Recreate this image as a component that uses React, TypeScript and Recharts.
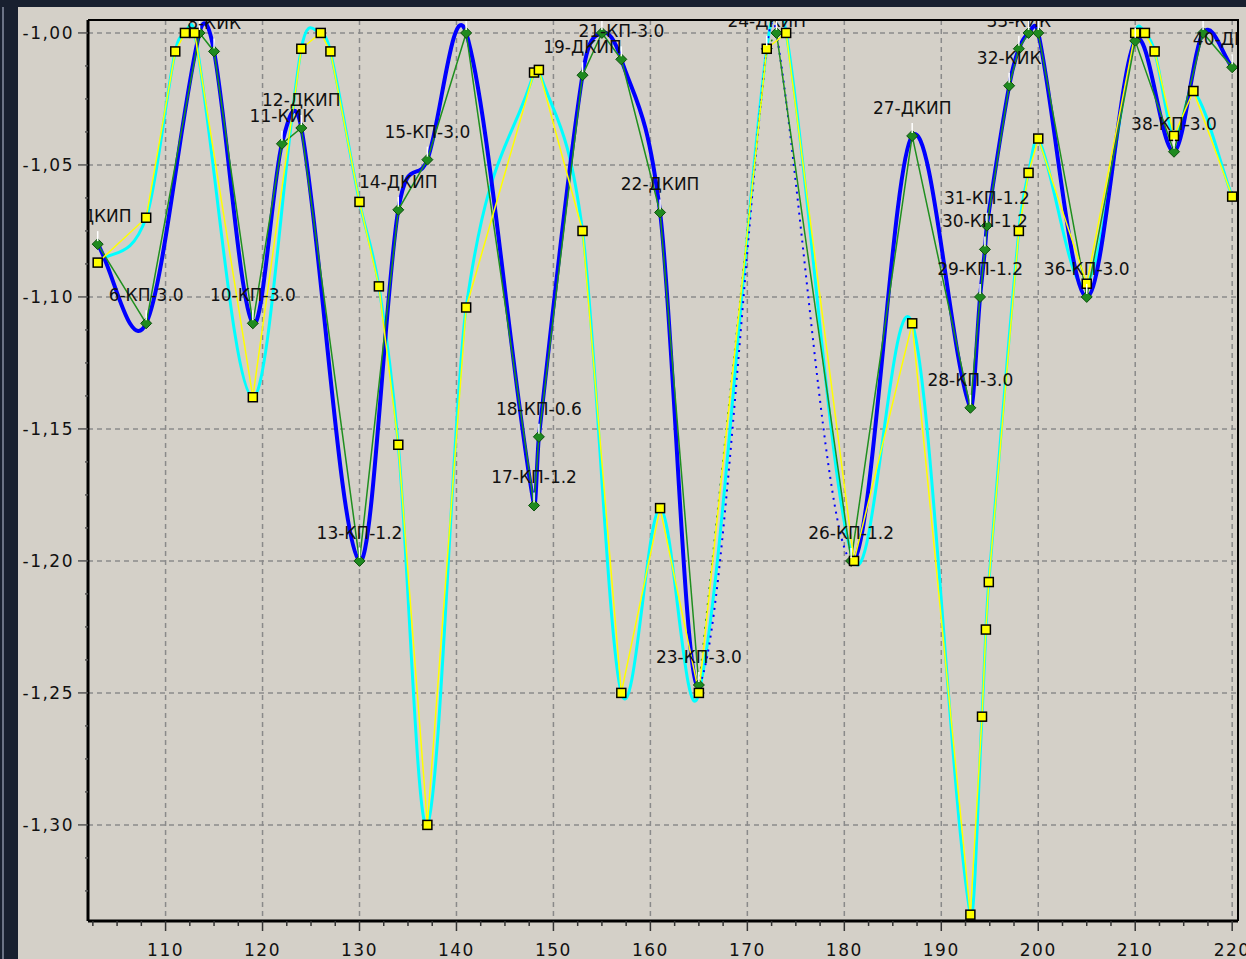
import { LineChart, Line, XAxis, YAxis, CartesianGrid, LabelList } from 'recharts';

// green series: measured points (stations), with labels
const greenX = [103, 108, 113.5, 115, 119, 122, 124, 130, 134, 137, 141, 148, 148.5, 153, 155, 157, 161, 165, 172, 173, 180.7, 187, 193, 194, 194.5, 194.7, 197, 198, 199, 200, 205, 210, 214, 217, 220];
const greenY = [-1.080, -1.110, -1.000, -1.007, -1.110, -1.042, -1.036, -1.200, -1.067, -1.048, -1.000, -1.179, -1.153, -1.016, -1.000, -1.010, -1.068, -1.247, -1.006, -1.000, -1.200, -1.039, -1.142, -1.100, -1.082, -1.073, -1.020, -1.006, -1.000, -1.000, -1.100, -1.003, -1.045, -1.000, -1.013];
const greenNames = ['5-ДКИП', '6-КП-3.0', '', '8-КИК', '10-КП-3.0', '11-КИК', '12-ДКИП', '13-КП-1.2', '14-ДКИП', '15-КП-3.0', '', '17-КП-1.2', '18-КП-0.6', '19-ДКИП', '', '21-КП-3.0', '22-ДКИП', '23-КП-3.0', '24-ДКИП', '', '26-КП-1.2', '27-ДКИП', '28-КП-3.0', '29-КП-1.2', '30-КП-1.2', '31-КП-1.2', '32-КИК', '33-КИК', '', '', '36-КП-3.0', '', '38-КП-3.0', '', '40-ДКИП'];

// yellow series
const yellowX = [103, 108, 111, 112, 113, 119, 124, 126, 127, 130, 132, 134, 137, 141, 148, 148.5, 153, 157, 161, 165, 172, 174, 181, 187, 193, 194.2, 194.6, 194.9, 198, 199, 200, 205, 210, 211, 212, 214, 216, 220];
const yellowY = [-1.087, -1.070, -1.007, -1.000, -1.000, -1.138, -1.006, -1.000, -1.007, -1.064, -1.096, -1.156, -1.300, -1.104, -1.015, -1.014, -1.075, -1.250, -1.180, -1.250, -1.006, -1.000, -1.200, -1.110, -1.334, -1.259, -1.226, -1.208, -1.075, -1.053, -1.040, -1.095, -1.000, -1.000, -1.007, -1.039, -1.022, -1.062];

const xMajorTicks = [110, 120, 130, 140, 150, 160, 170, 180, 190, 200, 210, 220];
const xMinorTicks = [102.5, 105, 107.5, 112.5, 115, 117.5, 122.5, 125, 127.5, 132.5, 135, 137.5, 142.5, 145, 147.5, 152.5, 155, 157.5, 162.5, 165, 167.5, 172.5, 175, 177.5, 182.5, 185, 187.5, 192.5, 195, 197.5, 202.5, 205, 207.5, 212.5, 215, 217.5];
const yMajorTicks = [-1.0, -1.05, -1.1, -1.15, -1.2, -1.25, -1.3];
const yMinorTicks = [-1.0125, -1.025, -1.0375, -1.0625, -1.075, -1.0875, -1.1125, -1.125, -1.1375, -1.1625, -1.175, -1.1875, -1.2125, -1.225, -1.2375, -1.2625, -1.275, -1.2875, -1.3125, -1.325];

const xDomain = [102, 220.6];
const yDomain = [-1.3364, -0.9951];

const greenData = greenX.map((x, i) => ({ x, y: greenY[i], n: greenNames[i] }));
const yellowData = yellowX.map((x, i) => ({ x, y: yellowY[i] }));

// dotted stretch of the smoothed/raw green run
const dottedBlue = [165, 180.7];
const dottedGreen = [165, 173];

const CHART_W = 1228;
const CHART_H = 952;
const PLOT = { left: 70, top: 13, width: 1150, height: 901 };
const FONT = '"DejaVu Sans", Arial, sans-serif';

const xPx = (v: number) => PLOT.left + ((v - xDomain[0]) / (xDomain[1] - xDomain[0])) * PLOT.width;
const yPx = (v: number) => PLOT.top + ((yDomain[1] - v) / (yDomain[1] - yDomain[0])) * PLOT.height;

const near = (arr: number[], v: number) => arr.some((t) => Math.abs(t - v) < 1e-6);

const scaleOf = (axis: any, v: number, fallback: (v: number) => number) => {
  const s = axis?.scale;
  if (typeof s === 'function') return s(v);
  if (s && typeof s.map === 'function') return s.map(v);
  return fallback(v);
};

// Catmull-Rom style smoothing in y(x): tangent from the two neighbours
function smoothX(context: any) {
  let px: number[] = [];
  let py: number[] = [];
  return {
    areaStart() {},
    areaEnd() {},
    lineStart() { px = []; py = []; },
    point(x: number, y: number) { px.push(+x); py.push(+y); },
    lineEnd() {
      const n = px.length;
      if (!n) return;
      context.moveTo(px[0], py[0]);
      if (n < 3) {
        for (let i = 1; i < n; i++) context.lineTo(px[i], py[i]);
        return;
      }
      const m: number[] = [];
      for (let i = 0; i < n; i++) {
        const a = Math.max(0, i - 1);
        const b = Math.min(n - 1, i + 1);
        m[i] = (py[b] - py[a]) / (px[b] - px[a] || 1e-6);
      }
      for (let i = 0; i < n - 1; i++) {
        const h = px[i + 1] - px[i];
        context.bezierCurveTo(px[i] + h / 3, py[i] + (m[i] * h) / 3, px[i + 1] - h / 3, py[i + 1] - (m[i + 1] * h) / 3, px[i + 1], py[i + 1]);
      }
    },
  };
}

const YTick = (props: any) => {
  const { x, y, payload } = props;
  const v = payload.value;
  const major = near(yMajorTicks, v);
  return (
    <g>
      <line x1={x - (major ? 10 : 3)} y1={y} x2={x} y2={y} stroke="#555" strokeWidth={1.5} />
      {major && (
        <text x={x - 14} y={y + 6} textAnchor="end" fontFamily={FONT} fontSize={17} letterSpacing={1.5} fill="#111">
          {v.toFixed(2).replace('.', ',')}
        </text>
      )}
    </g>
  );
};

const XTick = (props: any) => {
  const { x, y, payload } = props;
  const v = payload.value;
  const major = near(xMajorTicks, v);
  return (
    <g>
      <line x1={x} y1={y} x2={x} y2={y + (major ? 10 : 5)} stroke="#333" strokeWidth={1.5} />
      {major && (
        <text x={x} y={y + 35} textAnchor="middle" fontFamily={FONT} fontSize={17} letterSpacing={1.5} fill="#111">
          {v}
        </text>
      )}
    </g>
  );
};

const renderDiamond = (p: any) => {
  const { cx, cy, index } = p;
  if (cx == null || cy == null) return <g key={`gd${index}`} />;
  return (
    <path
      key={`gd${index}`}
      d={`M${cx},${cy - 5.5}L${cx + 5.5},${cy}L${cx},${cy + 5.5}L${cx - 5.5},${cy}Z`}
      fill="#1f8a1f"
      stroke="#0c4f0c"
      strokeWidth={1}
    />
  );
};

const renderSquare = (p: any) => {
  const { cx, cy, index } = p;
  if (cx == null || cy == null) return <g key={`ys${index}`} />;
  return <rect key={`ys${index}`} x={cx - 4.5} y={cy - 4.5} width={9} height={9} fill="#ffff00" stroke="#000" strokeWidth={1.5} />;
};

const renderLabel = (props: any) => {
  const x = props.x ?? props.viewBox?.x;
  const y = props.y ?? props.viewBox?.y;
  if (x == null || y == null) return null;
  return (
    <g clipPath="url(#clipPlot)">
      <line x1={x} y1={y - 3} x2={x} y2={y - 13} stroke="#ffffff" strokeWidth={1.5} />
      {props.value ? (
        <text x={x} y={y - 22} textAnchor="middle" fontFamily={FONT} fontSize={17} fill="#111">
          {props.value}
        </text>
      ) : null}
    </g>
  );
};

const css = `
.ln-blue-out path { clip-path: url(#clipBlueOut); }
.ln-blue-in path { clip-path: url(#clipBlueIn); }
.ln-green-out path { clip-path: url(#clipGreenOut); }
.ln-green-in path { clip-path: url(#clipGreenIn); }
`;

export default function App() {
  const bx0 = xPx(dottedBlue[0]);
  const bx1 = xPx(dottedBlue[1]);
  const gx0 = xPx(dottedGreen[0]);
  const gx1 = xPx(dottedGreen[1]);

  return (
    <div style={{ position: 'absolute', left: 0, top: 0, width: 1246, height: 959, background: '#18202f', overflow: 'hidden' }}>
      <style>{css}</style>
      <svg width={0} height={0} style={{ position: 'absolute' }}>
        <defs>
          <clipPath id="clipPlot" clipPathUnits="userSpaceOnUse">
            <rect x={PLOT.left} y={PLOT.top} width={PLOT.width} height={PLOT.height} />
          </clipPath>
          <clipPath id="clipBlueOut" clipPathUnits="userSpaceOnUse">
            <rect x={0} y={0} width={bx0} height={CHART_H} />
            <rect x={bx1} y={0} width={CHART_W - bx1} height={CHART_H} />
          </clipPath>
          <clipPath id="clipBlueIn" clipPathUnits="userSpaceOnUse">
            <rect x={bx0} y={0} width={bx1 - bx0} height={CHART_H} />
          </clipPath>
          <clipPath id="clipGreenOut" clipPathUnits="userSpaceOnUse">
            <rect x={0} y={0} width={gx0} height={CHART_H} />
            <rect x={gx1} y={0} width={CHART_W - gx1} height={CHART_H} />
          </clipPath>
          <clipPath id="clipGreenIn" clipPathUnits="userSpaceOnUse">
            <rect x={gx0} y={0} width={gx1 - gx0} height={CHART_H} />
          </clipPath>
        </defs>
      </svg>
      <div style={{ position: 'absolute', left: 2, top: 7, width: 2, height: 952, background: '#6b7385' }} />
      <div style={{ position: 'absolute', left: 18, top: 7, width: CHART_W, height: CHART_H, background: '#d4d0c8' }}>
        <LineChart width={CHART_W} height={CHART_H} margin={{ top: 13, right: 8, left: 0, bottom: 0 }}>
          <CartesianGrid
            stroke="#8a8a8a"
            strokeWidth={1.5}
            strokeDasharray="5 4"
            verticalCoordinatesGenerator={(args: any) => xMajorTicks.map((v) => scaleOf(args?.xAxis, v, xPx))}
            horizontalCoordinatesGenerator={(args: any) => yMajorTicks.map((v) => scaleOf(args?.yAxis, v, yPx))}
          />
          <XAxis
            type="number"
            dataKey="x"
            domain={xDomain}
            ticks={[...xMinorTicks, ...xMajorTicks].sort((a, b) => a - b)}
            interval={0}
            allowDataOverflow
            height={38}
            tickSize={0}
            tickMargin={0}
            tick={(p: any) => <XTick {...p} />}
            axisLine={{ stroke: '#000', strokeWidth: 3 }}
          />
          <YAxis
            type="number"
            domain={yDomain}
            ticks={[...yMajorTicks, ...yMinorTicks].sort((a, b) => b - a)}
            interval={0}
            allowDataOverflow
            width={70}
            tickSize={0}
            tickMargin={0}
            tick={(p: any) => <YTick {...p} />}
            axisLine={{ stroke: '#000', strokeWidth: 3 }}
          />

          <Line data={yellowData} dataKey="y" type={smoothX as any} stroke="#00ffff" strokeWidth={3} dot={false} isAnimationActive={false} />

          <Line className="ln-blue-out" data={greenData} dataKey="y" type={smoothX as any} stroke="#0000ff" strokeWidth={4} dot={false} isAnimationActive={false} />
          <Line className="ln-blue-in" data={greenData} dataKey="y" type={smoothX as any} stroke="#0000ff" strokeWidth={2} strokeDasharray="2 5" dot={false} isAnimationActive={false} />

          <Line className="ln-green-out" data={greenData} dataKey="y" type="linear" stroke="#1f8f1f" strokeWidth={1.5} dot={false} isAnimationActive={false} />
          <Line className="ln-green-in" data={greenData} dataKey="y" type="linear" stroke="#1f8f1f" strokeWidth={1.5} strokeDasharray="2 6" dot={false} isAnimationActive={false} />

          <Line data={yellowData} dataKey="y" type="linear" stroke="#ffff00" strokeWidth={1.5} dot={false} isAnimationActive={false} />

          <Line data={greenData} dataKey="y" type="linear" stroke="none" dot={renderDiamond} isAnimationActive={false}>
            <LabelList dataKey="n" content={renderLabel} />
          </Line>

          <Line data={yellowData} dataKey="y" type="linear" stroke="none" dot={renderSquare} isAnimationActive={false} />
        </LineChart>
      </div>
      <div
        style={{
          position: 'absolute',
          left: 88,
          top: 19,
          width: 1151,
          height: 902,
          boxSizing: 'border-box',
          borderTop: '2px solid #000',
          borderRight: '2px solid #000',
          pointerEvents: 'none',
        }}
      />
    </div>
  );
}
